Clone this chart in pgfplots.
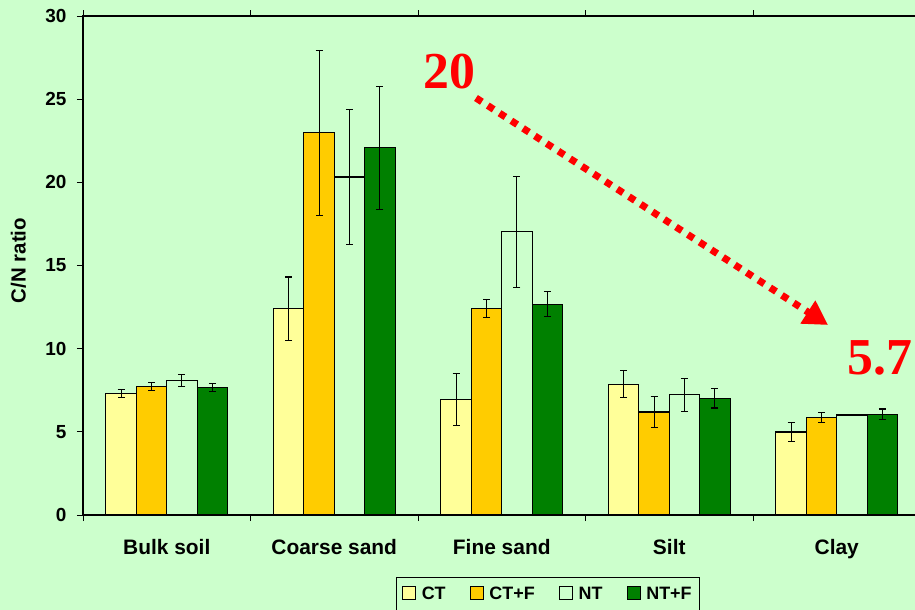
\documentclass[border=0pt]{standalone}
\usepackage{pgfplots}
\pgfplotsset{compat=1.18}
\usepackage{pgfplotstable}
\usepackage{fontspec}
\setmainfont{Liberation Sans}
\newfontfamily\timesfont{Liberation Serif}
\usetikzlibrary{arrows.meta}

\definecolor{bg}{HTML}{CCFFCC}
\definecolor{ctcol}{HTML}{FFFF99}
\definecolor{ctfcol}{HTML}{FFCC00}
\definecolor{ntcol}{HTML}{CCFFCC}
\definecolor{ntfcol}{HTML}{008000}

% C/N ratio by fraction: mean and standard error
\pgfplotstableread{
x y e
0 7.32 0.24
1 12.41 1.90
2 6.96 1.56
3 7.86 0.81
4 4.99 0.58
}\ctdata
\pgfplotstableread{
x y e
0 7.74 0.24
1 22.99 4.96
2 12.41 0.56
3 6.19 0.93
4 5.85 0.31
}\ctfdata
\pgfplotstableread{
x y e
0 8.10 0.37
1 20.32 4.08
2 17.02 3.33
3 7.22 1.00
4 6.01 0.03
}\ntdata
\pgfplotstableread{
x y e
0 7.68 0.24
1 22.07 3.69
2 12.67 0.74
3 7.02 0.59
4 6.05 0.32
}\ntfdata

\begin{document}
\begin{tikzpicture}
\path[fill=bg, use as bounding box] (0bp,0bp) rectangle (915bp,610bp);
\begin{axis}[
  at={(83bp,95bp)}, anchor=south west,
  x=167.5bp, y=16.633bp,
  xmin=-0.5, xmax=4.5, ymin=0, ymax=30,
  ybar=0pt, bar width=0.182,
  axis line style={black, line width=1.1bp},
  tick style={black, line width=1bp},
  major tick length=6bp,
  tick align=outside,
  xtick={-0.5,0.5,...,4.5}, xticklabels={},
  extra x ticks={0,1,2,3,4},
  extra x tick labels={Bulk soil, Coarse sand, Fine sand, Silt, Clay},
  extra x tick style={major tick length=0bp, tick style={draw=none}},
  xticklabel style={font=\bfseries\fontsize{21}{23}\selectfont, yshift=-21bp},
  ytick={0,5,...,30},
  yticklabel style={font=\bfseries\fontsize{19}{20}\selectfont, xshift=-7bp},
  /pgf/number format/assume math mode=true,
  ylabel={C/N ratio},
  ylabel style={font=\bfseries\fontsize{20.5}{22}\selectfont, at={(axis description cs:-0.077,0.51)}, anchor=center},
  legend columns=4,
  legend style={at={(axis description cs:0.555,-0.124)}, anchor=north,
    fill=bg, draw=black, line width=0.8bp,
    font=\bfseries\fontsize{18}{20}\selectfont,
    inner xsep=6bp, inner ysep=8bp,
    nodes={inner xsep=2bp},
    /tikz/every odd column/.append style={column sep=4bp},
    /tikz/every even column/.append style={column sep=22bp}},
  legend image code/.code={\draw[#1, draw=black, line width=0.8bp] (0bp,-5bp) rectangle (13bp,8bp);},
  error bars/y dir=both, error bars/y explicit,
  error bars/error bar style={black, line width=1bp},
  error bars/error mark options={black, line width=1.1bp, mark size=3.5bp, rotate=90},
]
\addplot[fill=ctcol, draw=black, line width=1.1bp] table[x=x, y=y, y error=e] {\ctdata};
\addplot[fill=ctfcol, draw=black, line width=1.1bp] table[x=x, y=y, y error=e] {\ctfdata};
\addplot[fill=ntcol, draw=black, line width=1.1bp] table[x=x, y=y, y error=e] {\ntdata};
\addplot[fill=ntfcol, draw=black, line width=1.1bp] table[x=x, y=y, y error=e] {\ntfdata};
\legend{CT, CT+F, NT, NT+F}
\end{axis}
% trend annotation
\node[text=red, inner sep=0pt, font=\timesfont\bfseries\fontsize{52}{52}\selectfont] at (449bp,538.5bp) {20};
\node[text=red, inner sep=0pt, anchor=west, font=\timesfont\bfseries\fontsize{52}{52}\selectfont] at (847bp,252.5bp) {5.7};
\draw[red, line width=7bp, dash pattern=on 7bp off 7bp, -{Triangle[length=24bp, width=26bp]}] (476bp,512bp) -- (828bp,285bp);
\end{tikzpicture}
\end{document}
